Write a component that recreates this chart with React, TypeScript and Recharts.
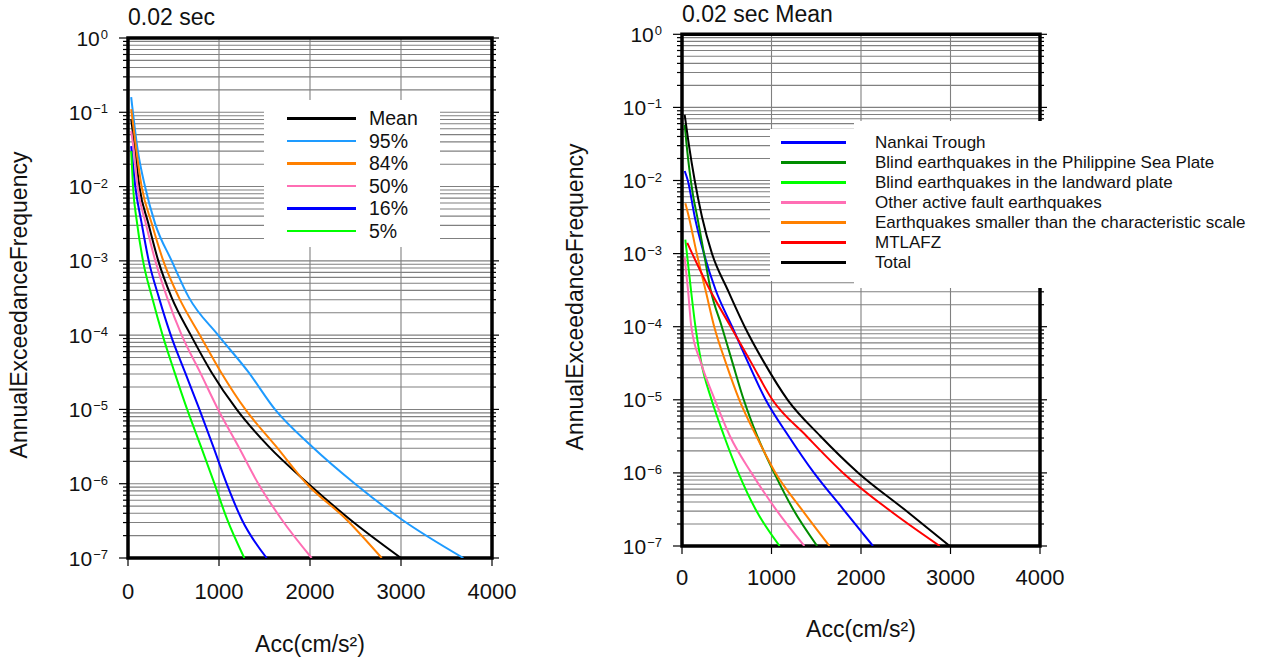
import React from 'react'
import { LineChart, Line, XAxis, YAxis, CartesianGrid, ReferenceArea } from 'recharts'

// axis ticks
const xTicks = [0, 1000, 2000, 3000, 4000]
const yDecades = [-7, -6, -5, -4, -3, -2, -1, 0]
const minorSteps = [1, 2, 3, 4, 5, 6, 7, 8, 9]
const yTicks = yDecades.flatMap((k) => (k === 0 ? [1] : minorSteps.map((m) => m * 10 ** k)))

// left panel: 0.02 sec, fractile curves
const meanAcc = [35, 77, 125, 223, 333, 480, 690, 915, 1194, 1542, 1982, 2440, 3000]
const meanFreq = [8.1e-2, 3.2e-2, 1e-2, 3.2e-3, 1e-3, 3.2e-4, 1e-4, 3.2e-5, 1e-5, 3.2e-6, 1e-6, 3.3e-7, 1e-7]
const p95Acc = [35, 105, 187, 297, 480, 670, 990, 1322, 1615, 2018, 2494, 3008, 3685]
const p95Freq = [1.6e-1, 3.2e-2, 1e-2, 3.2e-3, 1e-3, 3.2e-4, 1e-4, 3.2e-5, 1e-5, 3.2e-6, 1e-6, 3.3e-7, 1e-7]
const p84Acc = [35, 90, 150, 260, 388, 560, 790, 1020, 1290, 1625, 1963, 2400, 2788]
const p84Freq = [1.1e-1, 3.2e-2, 1e-2, 3.2e-3, 1e-3, 3.2e-4, 1e-4, 3.2e-5, 1e-5, 3.2e-6, 1e-6, 3.3e-7, 1e-7]
const p50Acc = [35, 62, 105, 195, 300, 430, 590, 790, 990, 1212, 1432, 1689, 2018]
const p50Freq = [5.6e-2, 3.2e-2, 1e-2, 3.2e-3, 1e-3, 3.2e-4, 1e-4, 3.2e-5, 1e-5, 3.2e-6, 1e-6, 3.3e-7, 1e-7]
const p16Acc = [35, 80, 150, 228, 340, 470, 625, 785, 935, 1084, 1250, 1524]
const p16Freq = [3.5e-2, 1e-2, 3.2e-3, 1e-3, 3.2e-4, 1e-4, 3.2e-5, 1e-5, 3.2e-6, 1e-6, 3.3e-7, 1e-7]
const p5Acc = [35, 55, 100, 165, 265, 380, 510, 650, 800, 950, 1090, 1278]
const p5Freq = [3.0e-2, 1e-2, 3.2e-3, 1e-3, 3.2e-4, 1e-4, 3.2e-5, 1e-5, 3.2e-6, 1e-6, 3.3e-7, 1e-7]

// right panel: 0.02 sec mean, by source
const nankaiAcc = [30, 65, 142, 245, 375, 560, 740, 935, 1190, 1475, 1800, 2134]
const nankaiFreq = [1.35e-2, 1e-2, 3.2e-3, 1e-3, 3.2e-4, 1e-4, 3.2e-5, 1e-5, 3.2e-6, 1e-6, 3.2e-7, 1e-7]
const philAcc = [30, 50, 123, 170, 246, 320, 445, 565, 690, 840, 1030, 1240, 1510]
const philFreq = [5.8e-2, 3.2e-2, 6.3e-3, 3.2e-3, 1e-3, 3.2e-4, 1e-4, 3.2e-5, 1e-5, 3.2e-6, 1e-6, 3.2e-7, 1e-7]
const landAcc = [37, 55, 100, 150, 216, 330, 470, 630, 820, 1091]
const landFreq = [1.55e-3, 1e-3, 3.2e-4, 1e-4, 3.2e-5, 1e-5, 3.2e-6, 1e-6, 3.2e-7, 1e-7]
const otherAcc = [30, 67, 104, 212, 367, 535, 776, 1047, 1367]
const otherFreq = [8.9e-4, 3.2e-4, 1e-4, 3.2e-5, 1e-5, 3.2e-6, 1e-6, 3.2e-7, 1e-7]
const smallAcc = [37, 76, 165, 262, 360, 490, 640, 830, 1045, 1335, 1648]
const smallFreq = [4.9e-3, 3.2e-3, 1e-3, 3.2e-4, 1e-4, 3.2e-5, 1e-5, 3.2e-6, 1e-6, 3.2e-7, 1e-7]
const mtlAcc = [59, 114, 311, 545, 775, 1010, 1390, 1800, 2300, 2879]
const mtlFreq = [1.4e-3, 1e-3, 3.2e-4, 1e-4, 3.2e-5, 1e-5, 3.2e-6, 1e-6, 3.2e-7, 1e-7]
const totalAcc = [30, 75, 142, 223, 335, 510, 700, 920, 1180, 1545, 1970, 2480, 2991]
const totalFreq = [7.9e-2, 3.2e-2, 1e-2, 3.2e-3, 1e-3, 3.2e-4, 1e-4, 3.2e-5, 1e-5, 3.2e-6, 1e-6, 3.2e-7, 1e-7]

const toPoints = (acc: number[], freq: number[]) => acc.map((a, i) => ({ acc: a, freq: freq[i] }))

type Series = { name: string; color: string; data: { acc: number; freq: number }[] }

const leftSeries: Series[] = [
  { name: 'Mean', color: '#000000', data: toPoints(meanAcc, meanFreq) },
  { name: '95%', color: '#1e9bff', data: toPoints(p95Acc, p95Freq) },
  { name: '84%', color: '#ff8000', data: toPoints(p84Acc, p84Freq) },
  { name: '50%', color: '#ff6eb4', data: toPoints(p50Acc, p50Freq) },
  { name: '16%', color: '#0000ff', data: toPoints(p16Acc, p16Freq) },
  { name: '5%', color: '#00ff00', data: toPoints(p5Acc, p5Freq) },
]

const rightSeries: Series[] = [
  { name: 'Nankai Trough', color: '#0000ff', data: toPoints(nankaiAcc, nankaiFreq) },
  { name: 'Blind earthquakes in the Philippine Sea Plate', color: '#008c00', data: toPoints(philAcc, philFreq) },
  { name: 'Blind earthquakes in the landward plate', color: '#00ff00', data: toPoints(landAcc, landFreq) },
  { name: 'Other active fault earthquakes', color: '#ff6eb4', data: toPoints(otherAcc, otherFreq) },
  { name: 'Earthquakes smaller than the characteristic scale', color: '#ff8000', data: toPoints(smallAcc, smallFreq) },
  { name: 'MTLAFZ', color: '#ff0000', data: toPoints(mtlAcc, mtlFreq) },
  { name: 'Total', color: '#000000', data: toPoints(totalAcc, totalFreq) },
]

const isDecade = (v: number) => Math.abs(Math.log10(v) - Math.round(Math.log10(v))) < 1e-6

function LeftTick({ x, y, payload }: any) {
  const v = payload.value
  const major = isDecade(v)
  const e = Math.round(Math.log10(v))
  return (
    <g>
      <line x1={x} x2={x - (major ? 9 : 5)} y1={y} y2={y} stroke="#000" strokeWidth={1.2} />
      {major && (
        <text x={x - 20} y={y + 7.5} textAnchor="end" fontSize={21} fill="#111">
          10
          <tspan dx={1} dy={-6.5} fontSize={13}>{e < 0 ? `\u2212${-e}` : `${e}`}</tspan>
        </text>
      )}
    </g>
  )
}

function RightTick({ x, y, payload }: any) {
  const major = isDecade(payload.value)
  return <line x1={x} x2={x + (major ? 7 : 4)} y1={y} y2={y} stroke="#000" strokeWidth={1.2} />
}

function Caption({ x, y, text, anchor = 'start', rotate = false }: any) {
  return (
    <text
      x={x}
      y={y}
      fontSize={23}
      fill="#111"
      textAnchor={anchor}
      transform={rotate ? `rotate(-90 ${x} ${y})` : undefined}
    >
      {text}
    </text>
  )
}

type PanelProps = {
  series: Series[]
  margin: { top: number; right: number; bottom: number; left: number }
  yAxisWidth: number
  xAxisHeight: number
  xTickMargin: number
  title: string
  titlePos: [number, number]
  xTitlePos: [number, number]
  yTitlePos: [number, number]
}

function Panel(p: PanelProps) {
  return (
    <LineChart width={520} height={659} margin={p.margin}>
      <CartesianGrid stroke="#808080" strokeWidth={1.1} />
      <XAxis
        xAxisId="top"
        orientation="top"
        type="number"
        dataKey="acc"
        domain={[0, 4000]}
        ticks={xTicks}
        interval={0}
        height={8}
        tick={false}
        tickSize={7}
        axisLine={false}
        tickLine={{ stroke: '#000', strokeWidth: 1.2 }}
        allowDataOverflow
        label={() => <Caption x={p.titlePos[0]} y={p.titlePos[1]} text={p.title} />}
      />
      <XAxis
        type="number"
        dataKey="acc"
        domain={[0, 4000]}
        ticks={xTicks}
        interval={0}
        height={p.xAxisHeight}
        tickSize={8}
        tickMargin={p.xTickMargin}
        axisLine={false}
        tickLine={{ stroke: '#000', strokeWidth: 1.2 }}
        tick={{ fontSize: 22, fill: '#111' }}
        allowDataOverflow
        label={() => <Caption x={p.xTitlePos[0]} y={p.xTitlePos[1]} text="Acc(cm/s²)" anchor="middle" />}
      />
      <YAxis
        type="number"
        scale="log"
        domain={[1e-7, 1]}
        ticks={yTicks}
        interval={0}
        width={p.yAxisWidth}
        tickSize={0}
        tickMargin={0}
        axisLine={false}
        tickLine={false}
        tick={(t: any) => <LeftTick {...t} />}
        allowDataOverflow
        label={() => (
          <Caption x={p.yTitlePos[0]} y={p.yTitlePos[1]} text="AnnualExceedanceFrequency" anchor="middle" rotate />
        )}
      />
      <YAxis
        yAxisId="right"
        orientation="right"
        type="number"
        scale="log"
        domain={[1e-7, 1]}
        ticks={yTicks}
        interval={0}
        width={10}
        tickSize={0}
        tickMargin={0}
        axisLine={false}
        tickLine={false}
        tick={(t: any) => <RightTick {...t} />}
        allowDataOverflow
      />
      <ReferenceArea x1={0} x2={4000} y1={1e-7} y2={1} fill="none" stroke="#000" strokeWidth={3.5} />
      {p.series.map((s) => (
        <Line
          key={s.name}
          data={s.data}
          dataKey="freq"
          name={s.name}
          type="monotone"
          stroke={s.color}
          strokeWidth={2}
          dot={false}
          isAnimationActive={false}
        />
      ))}
    </LineChart>
  )
}

export default function App() {
  return (
    <div
      style={{
        position: 'absolute',
        left: 0,
        top: 0,
        width: 1269,
        height: 659,
        background: '#fff',
        fontFamily: '"Liberation Sans", Arial, Helvetica, sans-serif',
        color: '#111',
      }}
    >
      <div style={{ position: 'absolute', left: 0, top: 0 }}>
        <Panel
          series={leftSeries}
          margin={{ top: 30, right: 18, bottom: 6, left: 0 }}
          yAxisWidth={128}
          xAxisHeight={95}
          xTickMargin={17}
          title="0.02 sec"
          titlePos={[128, 25]}
          xTitlePos={[310, 652]}
          yTitlePos={[27, 305]}
        />
      </div>
      <div style={{ position: 'absolute', left: 560, top: 0 }}>
        <Panel
          series={rightSeries}
          margin={{ top: 26.3, right: 30, bottom: 23, left: 0 }}
          yAxisWidth={122}
          xAxisHeight={90}
          xTickMargin={15}
          title="0.02 sec Mean"
          titlePos={[122, 21.7]}
          xTitlePos={[301, 637]}
          yTitlePos={[23, 297]}
        />
      </div>

      {/* left legend */}
      <div style={{ position: 'absolute', left: 264, top: 100, width: 176, height: 147, background: '#fff' }}>
        {leftSeries.map((s, i) => (
          <div
            key={s.name}
            style={{ position: 'absolute', left: 0, top: 7.25 + i * 22.5, height: 22.5, width: 176 }}
          >
            <div style={{ position: 'absolute', left: 23, top: 10, width: 69, height: 2.5, background: s.color }} />
            <span
              style={{
                position: 'absolute',
                left: 105,
                top: 0,
                display: 'block',
                height: 22.5,
                fontSize: 19.5,
                lineHeight: '22.5px',
                whiteSpace: 'nowrap',
              }}
            >
              {s.name}
            </span>
          </div>
        ))}
      </div>

      {/* right legend */}
      <div style={{ position: 'absolute', left: 770, top: 129, width: 84, height: 152, background: '#fff' }} />
      <div style={{ position: 'absolute', left: 854, top: 121, width: 408, height: 167, background: '#fff' }} />
      {rightSeries.map((s, i) => (
        <div
          key={s.name}
          style={{ position: 'absolute', left: 770, top: 132.7 + i * 20, height: 20, width: 490 }}
        >
          <div style={{ position: 'absolute', left: 11, top: 8.8, width: 65, height: 2.5, background: s.color }} />
          <span
            style={{
              position: 'absolute',
              left: 105,
              top: 0,
              display: 'block',
              height: 20,
              fontSize: 17,
              lineHeight: '20px',
              whiteSpace: 'nowrap',
            }}
          >
            {s.name}
          </span>
        </div>
      ))}
    </div>
  )
}
